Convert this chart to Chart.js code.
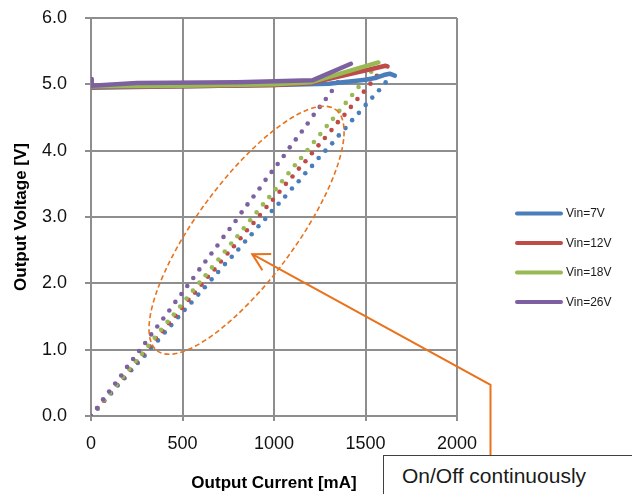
<!DOCTYPE html>
<html>
<head>
<meta charset="utf-8">
<title>Output Voltage vs Output Current</title>
<script src="https://cdn.jsdelivr.net/npm/chart.js@4.4.0/dist/chart.umd.min.js"></script>
<style>
  html, body { margin: 0; padding: 0; background: #fff; overflow: hidden; }
  #wrap { position: relative; width: 632px; height: 494px; }
  #callout {
    position: absolute; left: 383px; top: 455px; width: 280px; height: 60px;
    box-sizing: border-box; border: 1.5px solid #404040; background: #fff;
    font: 21px 'Liberation Sans', Arial, sans-serif; color: #1a1a1a;
    padding: 6px 0 0 18px; line-height: 28px; white-space: nowrap;
  }
</style>
</head>
<body>
<div id="wrap">
  <canvas id="chart" width="632" height="494"></canvas>
  <div id="callout">On/Off continuously</div>
</div>
<script>
// ─── Data ────────────────────────────────────────────────────────────────
const seriesNames = ['Vin=7V', 'Vin=12V', 'Vin=18V', 'Vin=26V'];
const seriesColors = ['#4A7EBB', '#BE4B48', '#98B954', '#7D60A0'];

// steady output (solid curves)
const lineCurrent7  = [0, 500, 1000, 1300, 1500, 1560, 1600, 1632, 1660];
const lineVoltage7  = [4.95, 4.97, 4.99, 5.01, 5.07, 5.10, 5.14, 5.16, 5.13];
const lineCurrent12 = [0, 500, 1000, 1200, 1610, 1620];
const lineVoltage12 = [4.96, 4.97, 4.99, 5.02, 5.28, 5.27];
const lineCurrent18 = [0, 500, 1000, 1200, 1570];
const lineVoltage18 = [4.97, 4.98, 5.00, 5.03, 5.33];
const lineCurrent26 = [0, 4, 250, 800, 1210, 1420];
const lineVoltage26 = [5.08, 4.98, 5.02, 5.03, 5.06, 5.31];

// on/off (dotted) samples
const dotCurrent7 = [0, 37, 73, 110, 146, 183, 220, 256, 293, 329, 366, 403, 439, 476, 512,
  549, 586, 622, 659, 695, 732, 769, 805, 842, 878, 915, 952, 988, 1025, 1061, 1098, 1135,
  1171, 1208, 1244, 1281, 1318, 1354, 1391, 1427, 1464, 1501, 1537, 1574, 1610];
const dotVoltage7 = [0.00, 0.11, 0.23, 0.34, 0.46, 0.57, 0.69, 0.80, 0.91, 1.03, 1.14, 1.26,
  1.37, 1.49, 1.60, 1.71, 1.83, 1.94, 2.06, 2.17, 2.29, 2.40, 2.51, 2.63, 2.74, 2.86, 2.97,
  3.09, 3.20, 3.31, 3.43, 3.54, 3.66, 3.77, 3.89, 4.00, 4.11, 4.23, 4.34, 4.46, 4.57, 4.69,
  4.80, 4.91, 5.03];
const dotCurrent12 = [0, 36, 71, 107, 142, 178, 213, 249, 284, 320, 355, 391, 426, 462, 497,
  533, 568, 604, 639, 675, 710, 746, 781, 817, 852, 888, 923, 959, 994, 1030, 1065, 1101,
  1136, 1172, 1207, 1243, 1278, 1314, 1349, 1385, 1420, 1456, 1491, 1527, 1562];
const dotVoltage12 = [0.00, 0.12, 0.23, 0.35, 0.47, 0.58, 0.70, 0.82, 0.93, 1.05, 1.17, 1.28,
  1.40, 1.51, 1.63, 1.75, 1.86, 1.98, 2.10, 2.21, 2.33, 2.45, 2.56, 2.68, 2.80, 2.91, 3.03,
  3.15, 3.26, 3.38, 3.50, 3.61, 3.73, 3.84, 3.96, 4.08, 4.19, 4.31, 4.43, 4.54, 4.66, 4.78,
  4.89, 5.01, 5.13];
const dotCurrent18 = [0, 35, 70, 104, 139, 174, 209, 244, 278, 313, 348, 383, 418, 452, 487,
  522, 557, 592, 626, 661, 696, 731, 766, 800, 835, 870, 905, 940, 974, 1009, 1044, 1079,
  1114, 1148, 1183, 1218, 1253, 1288, 1322, 1357, 1392, 1427, 1462, 1496, 1531];
const dotVoltage18 = [0.00, 0.12, 0.24, 0.35, 0.47, 0.59, 0.71, 0.83, 0.94, 1.06, 1.18, 1.30,
  1.42, 1.53, 1.65, 1.77, 1.89, 2.01, 2.12, 2.24, 2.36, 2.48, 2.60, 2.71, 2.83, 2.95, 3.07,
  3.19, 3.30, 3.42, 3.54, 3.66, 3.78, 3.89, 4.01, 4.13, 4.25, 4.37, 4.48, 4.60, 4.72, 4.84,
  4.96, 5.07, 5.19];
const dotCurrent26 = [0, 33, 66, 99, 132, 165, 197, 230, 263, 296, 329, 362, 395, 428, 461,
  494, 526, 559, 592, 625, 658, 691, 724, 757, 790, 823, 855, 888, 921, 954, 987, 1020,
  1053, 1086, 1119, 1152, 1184, 1217, 1250, 1283, 1316, 1349, 1382];
const dotVoltage26 = [0.00, 0.12, 0.25, 0.37, 0.49, 0.61, 0.74, 0.86, 0.98, 1.10, 1.23, 1.35,
  1.47, 1.59, 1.72, 1.84, 1.96, 2.08, 2.21, 2.33, 2.45, 2.57, 2.70, 2.82, 2.94, 3.07, 3.19,
  3.31, 3.43, 3.56, 3.68, 3.80, 3.92, 4.05, 4.17, 4.29, 4.41, 4.54, 4.66, 4.78, 4.90, 5.03,
  5.15];

const xTicks = [0, 500, 1000, 1500, 2000];
const yTicks = [0, 1, 2, 3, 4, 5, 6];

// callout marks, in data units
const ellipseCenter = [850, 2.80];
const arrowTip = [881, 2.44];
const arrowElbow = [2183, 0.47];

const ORANGE = '#E8731C';
const GRID = '#8e8e8e';
const FONT = "'Liberation Sans', Arial, sans-serif";

// ─── Helpers ─────────────────────────────────────────────────────────────
function toPoints(xs, ys) {
    return xs.map((v, i) => ({ x: v, y: ys[i] }));
}

const lineSets = [
    [lineCurrent7, lineVoltage7], [lineCurrent12, lineVoltage12],
    [lineCurrent18, lineVoltage18], [lineCurrent26, lineVoltage26]
];
const dotSets = [
    [dotCurrent7, dotVoltage7], [dotCurrent12, dotVoltage12],
    [dotCurrent18, dotVoltage18], [dotCurrent26, dotVoltage26]
];

const datasets = [];
// lower order is drawn on top: lines over dots, purple over blue
lineSets.forEach(([xs, ys], i) => {
    datasets.push({
        label: seriesNames[i],
        data: toPoints(xs, ys),
        showLine: true,
        borderColor: seriesColors[i],
        backgroundColor: seriesColors[i],
        borderWidth: 4.5,
        borderCapStyle: 'round',
        borderJoinStyle: 'round',
        pointRadius: 0,
        tension: 0,
        order: 3 - i
    });
});
dotSets.forEach(([xs, ys], i) => {
    datasets.push({
        label: seriesNames[i] + ' on/off',
        data: toPoints(xs, ys),
        showLine: false,
        backgroundColor: seriesColors[i],
        borderWidth: 0,
        pointRadius: 2.3,
        pointHoverRadius: 2.3,
        order: 8 - i
    });
});

// ─── Plugins ─────────────────────────────────────────────────────────────
const sideLegend = {
    id: 'sideLegend',
    afterDraw(chart) {
        const ctx = chart.ctx;
        ctx.save();
        ctx.font = '12px ' + FONT;
        ctx.fillStyle = '#1a1a1a';
        ctx.textBaseline = 'middle';
        seriesNames.forEach((name, i) => {
            const y = 213.5 + i * 29.5;
            ctx.strokeStyle = seriesColors[i];
            ctx.lineWidth = 4;
            ctx.lineCap = 'round';
            ctx.beginPath();
            ctx.moveTo(517, y);
            ctx.lineTo(561, y);
            ctx.stroke();
            ctx.fillText(name, 566, y + 0.5);
        });
        ctx.restore();
    }
};

const callout = {
    id: 'callout',
    afterDatasetsDraw(chart) {
        const { ctx, scales: { x, y } } = chart;
        ctx.save();

        // dashed ellipse round the on/off region
        ctx.strokeStyle = ORANGE;
        ctx.lineWidth = 1.6;
        ctx.setLineDash([5, 3]);
        ctx.beginPath();
        ctx.ellipse(x.getPixelForValue(ellipseCenter[0]), y.getPixelForValue(ellipseCenter[1]),
            150, 49, -53.5 * Math.PI / 180, 0, Math.PI * 2);
        ctx.stroke();

        // arrow from the text box
        ctx.setLineDash([]);
        ctx.lineWidth = 2;
        const tx = x.getPixelForValue(arrowTip[0]);
        const ty = y.getPixelForValue(arrowTip[1]);
        const ex = Math.round(x.getPixelForValue(arrowElbow[0])) + 0.5;
        const ey = y.getPixelForValue(arrowElbow[1]);
        ctx.beginPath();
        ctx.moveTo(ex, chart.height);
        ctx.lineTo(ex, ey);
        ctx.lineTo(tx, ty);
        ctx.stroke();

        const ang = Math.atan2(ey - ty, ex - tx);
        const spread = 29 * Math.PI / 180;
        ctx.beginPath();
        ctx.moveTo(tx + 19 * Math.cos(ang - spread), ty + 19 * Math.sin(ang - spread));
        ctx.lineTo(tx, ty);
        ctx.lineTo(tx + 19 * Math.cos(ang + spread), ty + 19 * Math.sin(ang + spread));
        ctx.stroke();

        ctx.restore();
    }
};

// ─── Chart ───────────────────────────────────────────────────────────────
new Chart(document.getElementById('chart'), {
    type: 'scatter',
    data: { datasets },
    options: {
        responsive: false,
        animation: false,
        devicePixelRatio: 1,
        layout: { padding: { top: 18, right: 175, bottom: 0, left: 0 } },
        plugins: {
            legend: { display: false },
            tooltip: { enabled: false }
        },
        scales: {
            x: {
                type: 'linear',
                min: 0,
                max: 2000,
                afterBuildTicks: (s) => { s.ticks = xTicks.map(v => ({ value: v })); },
                afterFit: (s) => { s.height = 78; s.paddingLeft = 0; s.paddingRight = 0; },
                grid: { color: GRID, lineWidth: 2, tickLength: 5 },
                border: { color: GRID, width: 2 },
                ticks: {
                    color: '#111',
                    padding: 12,
                    font: { family: FONT, size: 18 },
                    maxRotation: 0,
                    callback: (val) => String(val)
                },
                title: {
                    display: true,
                    text: 'Output Current [mA]',
                    color: '#000',
                    font: { family: FONT, size: 17, weight: 'bold' },
                    padding: { top: 6, bottom: 0 }
                }
            },
            y: {
                type: 'linear',
                min: 0,
                max: 6,
                afterBuildTicks: (s) => { s.ticks = yTicks.map(v => ({ value: v })); },
                afterFit: (s) => { s.width = 91; s.paddingTop = 0; s.paddingBottom = 0; },
                grid: { color: GRID, lineWidth: 2, tickLength: 6 },
                border: { color: GRID, width: 2 },
                ticks: {
                    color: '#111',
                    padding: 18,
                    font: { family: FONT, size: 18 },
                    callback: (val) => Number(val).toFixed(1)
                },
                title: {
                    display: true,
                    text: 'Output Voltage [V]',
                    color: '#000',
                    font: { family: FONT, size: 17, weight: 'bold' },
                    padding: { top: 11, bottom: 0 }
                }
            }
        }
    },
    plugins: [callout, sideLegend]
});
</script>
</body>
</html>
